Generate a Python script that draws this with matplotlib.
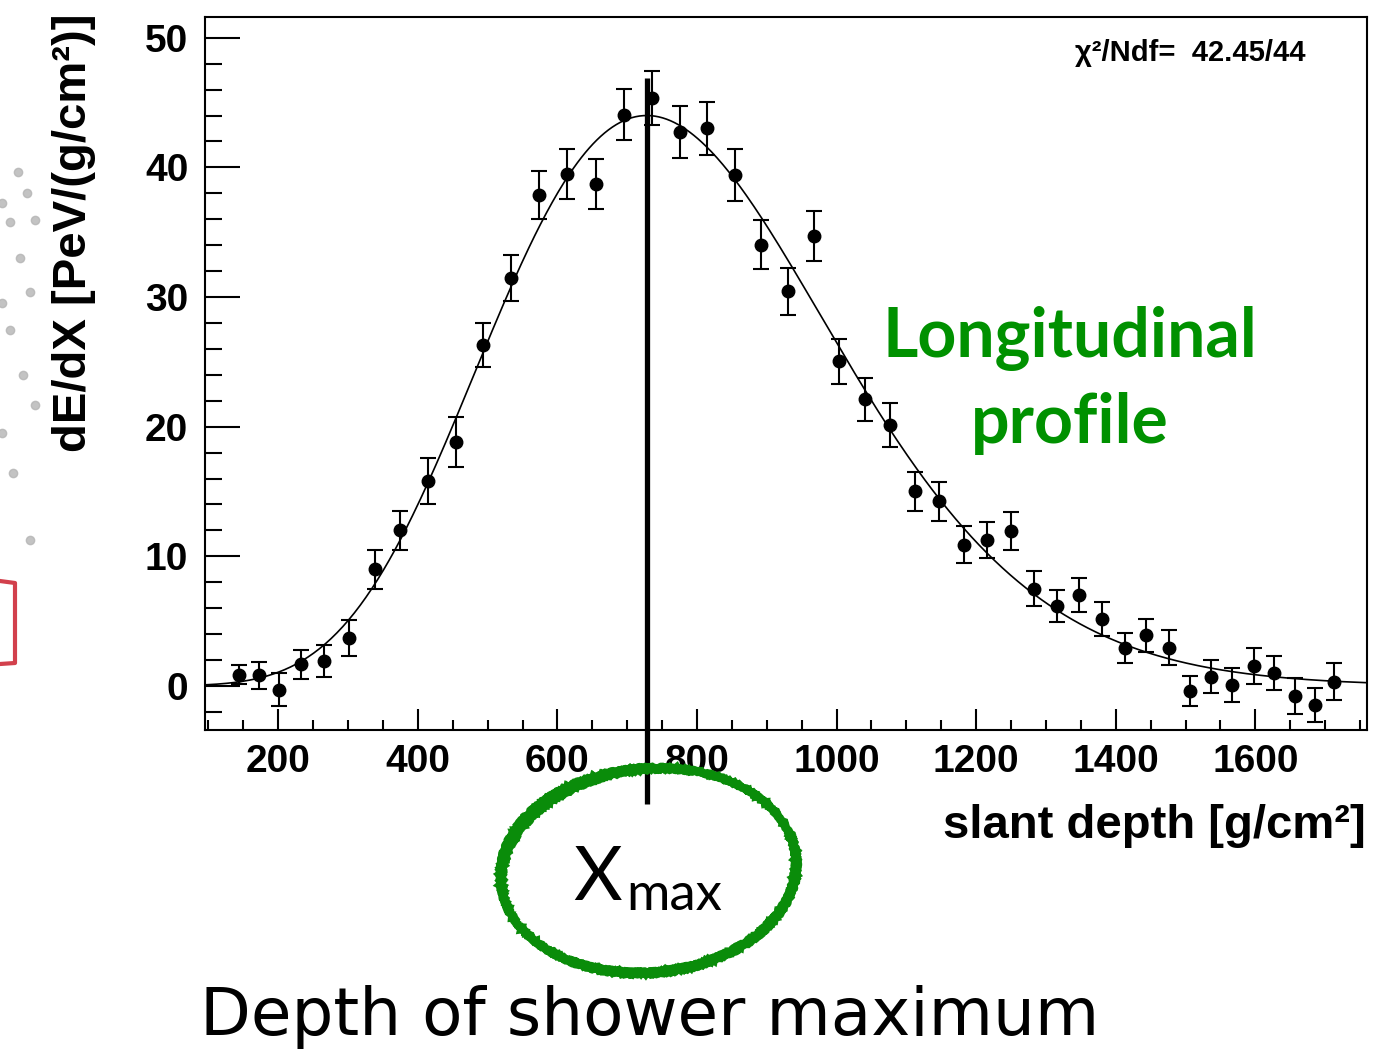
"""Longitudinal energy-deposit profile of an air shower with Gaisser-Hillas fit."""
import matplotlib

matplotlib.use("Agg")
import matplotlib.pyplot as plt  # noqa: E402
import numpy as np  # noqa: E402
from matplotlib.patches import Ellipse  # noqa: E402

# --- measured profile (slant depth in g/cm2, dE/dX in PeV/(g/cm2)) ---
depth = [144, 173, 201, 233, 266, 302, 339, 375, 415, 454,
         493, 533, 573, 613, 655, 695, 735, 775, 814, 854,
         892, 930, 967, 1004, 1041, 1077, 1112, 1147, 1182, 1216,
         1250, 1283, 1316, 1348, 1381, 1413, 1444, 1476, 1507, 1537,
         1567, 1598, 1627, 1657, 1685, 1712]
dedx = [0.87, 0.82, -0.28, 1.67, 1.92, 3.71, 9.01, 12.0, 15.82, 18.82,
        26.29, 31.47, 37.86, 39.5, 38.73, 44.06, 45.34, 42.7, 43.0, 39.43,
        34.05, 30.44, 34.74, 25.04, 22.1, 20.15, 15.0, 14.23, 10.88, 11.24,
        11.93, 7.5, 6.14, 7.01, 5.15, 2.94, 3.89, 2.94, -0.38, 0.72,
        0.08, 1.56, 1.02, -0.79, -1.46, 0.33]
dedx_err = [0.75, 1.04, 1.3, 1.1, 1.25, 1.38, 1.5, 1.53, 1.78, 1.92,
            1.72, 1.74, 1.88, 1.92, 1.92, 1.97, 2.06, 2.0, 2.05, 2.0,
            1.92, 1.82, 1.93, 1.73, 1.64, 1.69, 1.51, 1.52, 1.43, 1.38,
            1.47, 1.34, 1.24, 1.31, 1.29, 1.18, 1.29, 1.34, 1.15, 1.25,
            1.29, 1.4, 1.31, 1.4, 1.31, 1.41]

# Gaisser-Hillas fit parameters
GH_XMAX = 728.0
GH_NMAX = 44.0
GH_X0 = -232.0
GH_LAMBDA = 64.0
CHI2_TEXT = "χ²/Ndf=  42.45/44"

XMAX_MARK = 729.0          # vertical marker at the shower maximum
XMAX_MARK_SPAN = (46.9, -9.1)

GREEN = "#009100"
BOLD_FONT = ["Liberation Sans", "DejaVu Sans"]
SOFT_FONT = ["Lato", "DejaVu Sans"]

plt.rcParams.update({
    "font.family": BOLD_FONT,
    "font.weight": "bold",
})


def gaisser_hillas(x):
    w = (GH_XMAX - GH_X0) / GH_LAMBDA
    t = np.clip((x - GH_X0) / (GH_XMAX - GH_X0), 1e-9, None)
    return GH_NMAX * t ** w * np.exp((GH_XMAX - x) / GH_LAMBDA)


fig = plt.figure(figsize=(13.73, 10.53), dpi=100)
fig.patch.set_facecolor("white")
W, H = 1373.0, 1053.0


def fx(px):
    return px / W


def fy(py):
    return 1.0 - py / H


ax = fig.add_axes([fx(205), fy(730), fx(1367) - fx(205), fy(17) - fy(730)])

xs = np.linspace(95, 1760, 600)
ax.plot(xs, gaisser_hillas(xs), color="black", lw=1.2, zorder=2)
ax.errorbar(depth, dedx, yerr=dedx_err, fmt="o", color="black", ms=9,
            elinewidth=1.5, capsize=5.5, capthick=1.5, zorder=3)

ax.plot([XMAX_MARK, XMAX_MARK], XMAX_MARK_SPAN, color="black", lw=3.8,
        clip_on=False, zorder=6, solid_capstyle="butt")

ax.set_xlim(95, 1760)
ax.set_ylim(-3.4, 51.6)
ax.set_xticks(np.arange(200, 1700, 200))
ax.set_xticks(np.arange(100, 1760, 50), minor=True)
ax.set_yticks(np.arange(0, 51, 10))
ax.set_yticks(np.arange(-2, 51, 2), minor=True)

for side in ax.spines.values():
    side.set_linewidth(1.5)
ax.tick_params(axis="both", which="both", direction="in", width=1.5,
               labelsize=28, top=False, right=False)
ax.tick_params(axis="y", which="major", length=25, pad=12)
ax.tick_params(axis="y", which="minor", length=12.5)
ax.tick_params(axis="x", which="major", length=15, pad=10)
ax.tick_params(axis="x", which="minor", length=7.5)
for lab in ax.get_xticklabels() + ax.get_yticklabels():
    lab.set_fontweight("bold")

# axis titles and fit summary
fig.text(fx(74), fy(14), "dE/dX [PeV/(g/cm²)]", rotation=90, ha="center",
         va="top", fontsize=34, fontweight="bold")
fig.text(fx(1366), fy(826), "slant depth [g/cm²]", ha="right", va="center",
         fontsize=34, fontweight="bold")
fig.text(fx(1075), fy(53), CHI2_TEXT, ha="left", va="center", fontsize=21,
         fontweight="bold")

# annotations
fig.text(fx(1070), fy(357), "Longitudinal", ha="center", va="baseline",
         fontsize=49, fontweight="bold", color=GREEN, family=SOFT_FONT)
fig.text(fx(1070), fy(443), "profile", ha="center", va="baseline",
         fontsize=49, fontweight="bold", color=GREEN, family=SOFT_FONT)
fig.text(fx(573), fy(900), "X", ha="left", va="baseline", fontsize=54,
         fontweight="normal", family=SOFT_FONT)
fig.text(fx(626), fy(910), "max", ha="left", va="baseline", fontsize=38,
         fontweight="normal", family=SOFT_FONT)
fig.text(fx(200), fy(1035), "Depth of shower maximum", ha="left",
         va="baseline", fontsize=47.5, fontweight="normal",
         family=["DejaVu Sans"])

# hand-drawn ring round the Xmax label: overlapping crayon strokes
for dx, dy, ang, lw in [(0.0, 0.0, 5, 6.0), (0.03, -0.03, 6, 4.0),
                        (-0.02, 0.02, 4, 3.0)]:
    ring = Ellipse((6.48 + dx, (H - 870) / 100 + dy), 2.96, 2.04, angle=ang,
                   transform=fig.dpi_scale_trans, fill=False,
                   edgecolor="#0a8c0a", lw=lw, zorder=7)
    ring.set_sketch_params(scale=0.8, length=4, randomness=6)
    fig.add_artist(ring)

# slide background remnants on the left edge
dots_x = [18, 27, 2, 35, 10, 20, 30, 2, 10, 23, 35, 2, 13, 30]
dots_y = [172, 193, 203, 220, 222, 258, 292, 303, 330, 375, 405, 433, 473, 540]
fig.add_artist(plt.Line2D([fx(v) for v in dots_x], [fy(v) for v in dots_y],
                          ls="none", marker="o", ms=6, color="#b4b4b4",
                          alpha=0.8, transform=fig.transFigure))
fig.add_artist(plt.Line2D([fx(0), fx(15), fx(15), fx(0)],
                          [fy(581), fy(583), fy(663), fy(664)],
                          color="#d2404c", lw=3, transform=fig.transFigure))

fig.savefig("out.png", dpi=100)
